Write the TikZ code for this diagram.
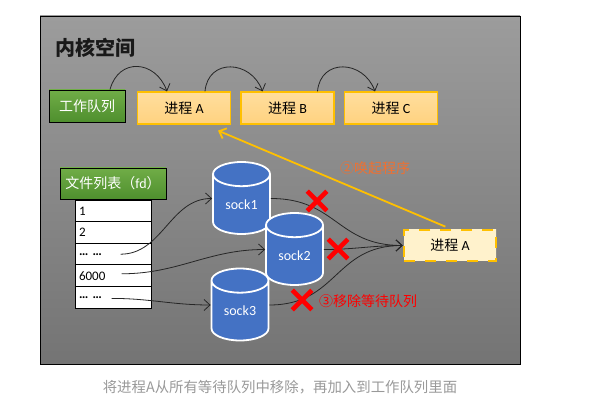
\documentclass[tikz,border=0pt]{standalone}
\usepackage{fontspec}
\usepackage{xcolor}
\setmainfont{Carlito}
\newfontfamily\cjk{Noto Sans CJK SC}
\usetikzlibrary{positioning, arrows.meta, shapes.geometric, shapes.misc}
\definecolor{panelTop}{HTML}{9C9C9C}
\definecolor{panelBot}{HTML}{747474}
\definecolor{greenTop}{HTML}{70AD47}
\definecolor{greenBot}{HTML}{4F8F2E}
\definecolor{procTop}{HTML}{FFDE9E}
\definecolor{procBot}{HTML}{FFD27F}
\definecolor{procEdge}{HTML}{FFC000}
\definecolor{waitFill}{HTML}{FFF2CC}
\definecolor{sockBlue}{HTML}{4472C4}
\definecolor{wakeText}{HTML}{F07030}
\definecolor{capText}{HTML}{999999}
\begin{document}
\begin{tikzpicture}[x=1pt, y=-1pt, >={Straight Barb[length=6pt,width=11pt]}, node distance=103.5pt, on grid, auto,
    queue/.style={draw=black, line width=0.9pt, top color=greenTop, bottom color=greenBot, text=white, font=\fontsize{14}{16}\selectfont, inner sep=0pt},
    proc/.style={draw=procEdge, line width=1.2pt, top color=procTop, bottom color=procBot, minimum width=93pt, minimum height=32pt, font=\fontsize{14}{16}\selectfont, inner sep=0pt},
    row/.style={draw=black, fill=white, line width=0.8pt, minimum width=76pt, minimum height=21.8pt, align=left, text width=68pt, inner sep=0pt, font=\fontsize{13}{15}\selectfont},
    sock/.style={cylinder, anchor=shape center, shape border rotate=90, aspect=0.75, draw=white, line width=1.8pt, fill=sockBlue, text=white, minimum width=57pt, minimum height=72pt, inner sep=0pt, font=\fontsize{14}{16}\selectfont},
    cross/.style={cross out, draw=red, line width=4.6pt, minimum size=15pt, inner sep=0pt},
    link/.style={black!85, line width=0.8pt}]
   \useasboundingbox (0,0) rectangle (596,411);

   % panel
   \node[draw=black, line width=0.8pt, top color=panelTop, bottom color=panelBot, minimum width=480pt, minimum height=348pt, inner sep=0pt] (panel) at (280,190) {};
   \node[font=\fontsize{20}{22}\selectfont\bfseries\cjk, text=black!90, inner sep=0pt] (title) at (95,48) {内核空间};

   % work queue
   \node[queue, minimum width=76pt, minimum height=32pt] (worklist) at (87,106) {\cjk 工作队列};
   \node[proc] (proc_a) at (184,108) {{\cjk 进程} A};
   \node[proc] (proc_b) [right=of proc_a] {{\cjk 进程} B};
   \node[proc] (proc_c) [right=of proc_b] {{\cjk 进程} C};

   % fd list
   \node[queue, minimum width=106pt, minimum height=31pt] (fdhead) at (113,183.5) {{\cjk 文件列表（}fd{\cjk ）}};
   \node[row] (row_1) at (113,211) {1};
   \node[row] (row_2) [below=21.6pt of row_1] {2};
   \node[row] (row_3) [below=21.6pt of row_2] {\textbf{… …}};
   \node[row] (row_4) [below=21.6pt of row_3] {6000};
   \node[row] (row_5) [below=21.6pt of row_4] {\textbf{… …}};
   \coordinate (row_3_end) at ([xshift=46pt]row_3.west);
   \coordinate (row_4_end) at ([xshift=47pt,yshift=2pt]row_4.west);
   \coordinate (row_5_end) at ([xshift=37pt,yshift=-1pt]row_5.west);

   % sockets
   \node[sock] (sock_1) at (241.5,198) {sock1};
   \node[sock] (sock_2) at (294.5,249) {sock2};
   \node[sock] (sock_3) at (240,304.5) {sock3};

   % sleeping process
   \node[proc, line width=2.8pt, dash pattern=on 11pt off 10pt, top color=waitFill, bottom color=waitFill, minimum width=92pt, minimum height=31pt] (proc_w) at (450,245.5) {{\cjk 进程} A};

   \path[->, link]
    ([xshift=23pt]worklist.north) edge [out=75, in=110, looseness=1.5] ([xshift=-17pt]proc_a.north)
    ([xshift=21pt]proc_a.north) edge [out=85, in=110, looseness=1.5] ([xshift=-25pt]proc_b.north)
    ([xshift=30pt]proc_b.north) edge [out=85, in=110, looseness=1.5] ([xshift=-16pt]proc_c.north)
    (row_3_end) edge [out=0, in=180] ([yshift=6pt]sock_1.west)
    (row_4_end) edge [out=0, in=180] ([yshift=6pt]sock_2.west)
    (row_5_end) edge [out=0, in=180] ([yshift=6pt]sock_3.west)
    ([yshift=6pt]sock_1.east) edge [out=0, in=180, looseness=1.2] (proc_w.west)
    ([yshift=6pt]sock_2.east) edge [out=0, in=180] (proc_w.west)
    ([yshift=6pt]sock_3.east) edge [out=0, in=180, looseness=1.2] (proc_w.west)
    ;

   % wake up
   \draw[->, draw=procEdge, line width=1.8pt, shorten <=5pt] (proc_w.north) -- ([xshift=34pt,yshift=-6pt]proc_a.south);

   \node[cross] (cross_1) at (317,201) {};
   \node[cross] (cross_2) at (338,249) {};
   \node[cross] (cross_3) at (302,300) {};

   \node[text=wakeText, font=\fontsize{14}{16}\selectfont\cjk, inner sep=0pt] (wake) at (375,168) {②唤起程序};
   \node[text=red, font=\fontsize{14}{16}\selectfont\cjk, inner sep=0pt] (remove) at (368,301) {③移除等待队列};
   \node[text=capText, font=\fontsize{14.4}{16}\selectfont\cjk, inner sep=0pt] (caption) at (280,387) {将进程A从所有等待队列中移除，再加入到工作队列里面};
\end{tikzpicture}
\end{document}
